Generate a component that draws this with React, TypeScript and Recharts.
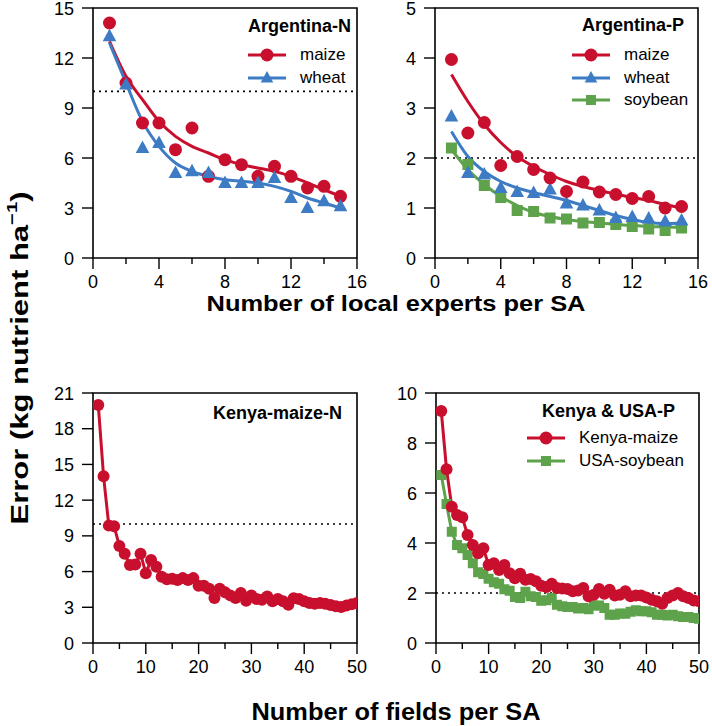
import React from 'react';
import { ComposedChart, Line, Scatter, XAxis, YAxis, ReferenceLine, ReferenceArea, Legend } from 'recharts';

const RED = '#c8102e';
const BLUE = '#3d7cc4';
const GREEN = '#5ea34b';
const FONT = '"Liberation Sans", Arial, sans-serif';

// x values
const expertCounts = [1, 2, 3, 4, 5, 6, 7, 8, 9, 10, 11, 12, 13, 14, 15];
const fieldCounts = [
  1, 2, 3, 4, 5, 6, 7, 8, 9, 10, 11, 12, 13, 14, 15, 16, 17, 18, 19, 20, 21, 22, 23, 24, 25,
  26, 27, 28, 29, 30, 31, 32, 33, 34, 35, 36, 37, 38, 39, 40, 41, 42, 43, 44, 45, 46, 47, 48, 49, 50,
];

// Argentina-N
const argNMaize = [14.1, 10.5, 8.1, 8.1, 6.5, 7.8, 4.9, 5.9, 5.6, 4.9, 5.5, 4.9, 4.2, 4.3, 3.7];
const argNWheat = [13.3, 10.4, 6.6, 6.9, 5.1, 5.2, 5.1, 4.5, 4.5, 4.5, 4.8, 3.6, 3.0, 3.4, 3.1];
const argNMaizeFit = [13.0, 10.9, 9.5, 8.2, 7.3, 6.7, 6.3, 5.9, 5.6, 5.4, 5.2, 4.9, 4.5, 4.1, 3.7];
const argNWheatFit = [12.9, 10.5, 8.2, 6.7, 5.7, 5.2, 4.9, 4.7, 4.6, 4.5, 4.3, 4.0, 3.6, 3.3, 3.0];

// Argentina-P
const argPMaize = [3.97, 2.5, 2.71, 1.85, 2.03, 1.77, 1.6, 1.33, 1.52, 1.32, 1.27, 1.19, 1.23, 1.0, 1.03];
const argPWheat = [2.83, 1.7, 1.67, 1.4, 1.32, 1.3, 1.37, 1.09, 1.05, 0.95, 0.8, 0.82, 0.79, 0.73, 0.75];
const argPSoy = [2.2, 1.87, 1.45, 1.21, 0.95, 0.93, 0.8, 0.78, 0.7, 0.71, 0.67, 0.63, 0.58, 0.55, 0.6];
const argPMaizeFit = [3.67, 3.13, 2.67, 2.31, 2.03, 1.83, 1.67, 1.53, 1.43, 1.35, 1.28, 1.21, 1.15, 1.07, 1.0];
const argPWheatFit = [2.53, 2.03, 1.73, 1.53, 1.4, 1.31, 1.23, 1.15, 1.05, 0.95, 0.85, 0.77, 0.71, 0.69, 0.7];
const argPSoyFit = [2.17, 1.77, 1.47, 1.23, 1.05, 0.91, 0.83, 0.77, 0.73, 0.7, 0.67, 0.65, 0.63, 0.62, 0.61];

// Kenya-maize-N
const kenyaN = [
  20.0, 14.0, 9.86, 9.8, 8.15, 7.5, 6.55, 6.6, 7.5, 5.86, 6.97, 6.4, 5.57, 5.35, 5.4, 5.3, 5.45, 5.3,
  5.45, 4.8, 4.8, 4.55, 3.78, 4.55, 4.26, 4.0, 3.78, 4.2, 3.55, 4.0, 3.7, 3.64, 3.9, 3.5, 3.7, 3.5,
  3.22, 3.75, 3.7, 3.5, 3.36, 3.3, 3.36, 3.3, 3.2, 3.08, 3.02, 3.14, 3.25, 3.36,
];

// Kenya & USA-P
const kenyaP = [
  9.28, 6.95, 5.45, 5.12, 5.03, 4.32, 3.92, 3.59, 3.79, 3.12, 3.19, 2.92, 3.12, 2.79, 2.59, 2.77, 2.53,
  2.56, 2.47, 2.29, 2.24, 2.37, 2.2, 2.18, 2.16, 2.07, 2.1, 2.2, 1.87, 1.93, 2.16, 1.97, 2.13, 1.9, 1.93,
  2.07, 1.87, 1.9, 1.9, 1.82, 1.73, 1.67, 1.57, 1.8, 1.9, 2.0, 1.87, 1.8, 1.7, 1.67,
];
const usaSoy = [
  6.72, 5.56, 4.45, 3.92, 3.79, 3.52, 3.19, 2.83, 2.76, 2.57, 2.43, 2.37, 2.15, 2.09, 1.84, 1.8, 2.05,
  1.87, 1.84, 1.69, 1.71, 1.8, 1.53, 1.47, 1.44, 1.44, 1.38, 1.4, 1.35, 1.5, 1.5, 1.4, 1.13, 1.13, 1.18,
  1.17, 1.25, 1.31, 1.27, 1.27, 1.23, 1.13, 1.13, 1.1, 1.13, 1.07, 1.04, 1.04, 1.0, 0.97,
];

const toPoints = (xs: number[], ys: number[]) => xs.map((x, i) => ({ x, y: ys[i] }));

type Kind = 'circle' | 'triangle' | 'square';

function marker(kind: Kind, color: string, cx: number, cy: number, s: number, key?: any) {
  if (cx == null || cy == null) return <g key={key} />;
  if (kind === 'circle') return <circle key={key} cx={cx} cy={cy} r={s} fill={color} />;
  if (kind === 'square')
    return <rect key={key} x={cx - s} y={cy - s} width={s * 2} height={s * 2} fill={color} />;
  return (
    <polygon
      key={key}
      points={`${cx},${cy - s * 1.15} ${cx - s * 1.05},${cy + s * 0.75} ${cx + s * 1.05},${cy + s * 0.75}`}
      fill={color}
    />
  );
}

function XTick({ x, y, payload, majorEvery }: any) {
  const v = payload.value;
  const major = v % majorEvery === 0;
  return (
    <g>
      <line x1={x} x2={x} y1={y} y2={y + (major ? 11 : 6)} stroke="#000" strokeWidth={1.4} />
      {major && (
        <text x={x} y={y + 30} textAnchor="middle" fontSize={18} fontFamily={FONT} fill="#000">
          {v}
        </text>
      )}
    </g>
  );
}

function YTick({ x, y, payload }: any) {
  return (
    <g>
      <line x1={x - 11} x2={x} y1={y} y2={y} stroke="#000" strokeWidth={1.4} />
      <text x={x - 19} y={y + 6.5} textAnchor="end" fontSize={18} fontFamily={FONT} fill="#000">
        {payload.value}
      </text>
    </g>
  );
}

interface Series {
  data: { x: number; y: number }[];
  color: string;
  kind?: Kind;
  size?: number;
}

interface LegendCfg {
  left: number;
  top: number;
  title: string;
  titleDx: number;
  gap: number;
  items: { label: string; color: string; kind: Kind; size: number }[];
}

function LegendBox({ cfg }: { cfg: LegendCfg }) {
  return (
    <div style={{ fontFamily: FONT, color: '#000' }}>
      <div style={{ marginLeft: cfg.titleDx, fontWeight: 700, fontSize: 18, lineHeight: '22px', whiteSpace: 'nowrap' }}>
        {cfg.title}
      </div>
      <div style={{ marginTop: cfg.gap }}>
        {cfg.items.map((it) => (
          <div key={it.label} style={{ display: 'flex', alignItems: 'center', height: 22.5 }}>
            <svg width={38} height={16} style={{ display: 'block' }}>
              <line x1={0} x2={38} y1={8} y2={8} stroke={it.color} strokeWidth={3} />
              {marker(it.kind, it.color, 19, 8, it.size)}
            </svg>
            <span style={{ marginLeft: 14, fontSize: 17, whiteSpace: 'nowrap' }}>{it.label}</span>
          </div>
        ))}
      </div>
    </div>
  );
}

interface PanelProps {
  left: number;
  top: number;
  width: number;
  height: number;
  margin: { top: number; right: number; bottom: number; left: number };
  yAxisWidth: number;
  xAxisHeight: number;
  xDomain: [number, number];
  xTicks: number[];
  majorEvery: number;
  yDomain: [number, number];
  yTicks: number[];
  refY: number;
  fits?: Series[];
  points?: Series[];
  connected?: Series[];
  legend: LegendCfg;
}

function Panel(p: PanelProps) {
  return (
    <div style={{ position: 'absolute', left: p.left, top: p.top }}>
      <ComposedChart width={p.width} height={p.height} margin={p.margin}>
        <XAxis
          type="number"
          dataKey="x"
          domain={p.xDomain}
          ticks={p.xTicks}
          interval={0}
          allowDataOverflow
          axisLine={false}
          tickLine={false}
          tickSize={0}
          tickMargin={0}
          height={p.xAxisHeight}
          tick={<XTick majorEvery={p.majorEvery} />}
        />
        <YAxis
          type="number"
          dataKey="y"
          domain={p.yDomain}
          ticks={p.yTicks}
          interval={0}
          allowDataOverflow
          axisLine={false}
          tickLine={false}
          tickSize={0}
          tickMargin={0}
          width={p.yAxisWidth}
          tick={<YTick />}
        />
        <ReferenceLine y={p.refY} stroke="#000" strokeWidth={1.6} strokeDasharray="2 4" />
        {(p.fits || []).map((s, i) => (
          <Line
            key={`fit-${i}`}
            data={s.data}
            dataKey="y"
            type="monotone"
            stroke={s.color}
            strokeWidth={3}
            dot={false}
            isAnimationActive={false}
          />
        ))}
        {(p.points || []).map((s, i) => (
          <Scatter
            key={`pts-${i}`}
            data={s.data}
            dataKey="y"
            isAnimationActive={false}
            shape={(sp: any) => marker(s.kind || 'circle', s.color, sp.cx, sp.cy, s.size || 6)}
          />
        ))}
        {(p.connected || []).map((s, i) => (
          <Line
            key={`con-${i}`}
            data={s.data}
            dataKey="y"
            type="linear"
            stroke={s.color}
            strokeWidth={3}
            isAnimationActive={false}
            dot={(dp: any) => marker(s.kind || 'circle', s.color, dp.cx, dp.cy, s.size || 6, dp.index)}
          />
        ))}
        <ReferenceArea
          x1={p.xDomain[0]}
          x2={p.xDomain[1]}
          y1={p.yDomain[0]}
          y2={p.yDomain[1]}
          fill="none"
          fillOpacity={0}
          stroke="#000"
          strokeWidth={1.6}
          ifOverflow="visible"
        />
        <Legend
          layout="vertical"
          align="center"
          verticalAlign="middle"
          content={() => <LegendBox cfg={p.legend} />}
          wrapperStyle={{ top: p.legend.top, left: p.legend.left, width: 'auto', height: 'auto' }}
        />
      </ComposedChart>
    </div>
  );
}

const expertTicks = [0, 2, 4, 6, 8, 10, 12, 14, 16];
const fieldTicks = [0, 5, 10, 15, 20, 25, 30, 35, 40, 45, 50];

export default function App() {
  return (
    <div style={{ position: 'absolute', left: 0, top: 0, width: 712, height: 726, overflow: 'hidden', background: '#fff', fontFamily: FONT }}>
      <Panel
        left={0}
        top={-10}
        width={375}
        height={310}
        margin={{ top: 18, right: 18, bottom: 2, left: 0 }}
        yAxisWidth={93}
        xAxisHeight={40}
        xDomain={[0, 16]}
        xTicks={expertTicks}
        majorEvery={4}
        yDomain={[0, 15]}
        yTicks={[0, 3, 6, 9, 12, 15]}
        refY={10}
        fits={[
          { data: toPoints(expertCounts, argNMaizeFit), color: RED },
          { data: toPoints(expertCounts, argNWheatFit), color: BLUE },
        ]}
        points={[
          { data: toPoints(expertCounts, argNMaize), color: RED, kind: 'circle', size: 6.5 },
          { data: toPoints(expertCounts, argNWheat), color: BLUE, kind: 'triangle', size: 6.5 },
        ]}
        legend={{
          left: 248,
          top: 25,
          title: 'Argentina-N',
          titleDx: 0,
          gap: 7,
          items: [
            { label: 'maize', color: RED, kind: 'circle', size: 6.5 },
            { label: 'wheat', color: BLUE, kind: 'triangle', size: 6 },
          ],
        }}
      />
      <Panel
        left={362}
        top={-10}
        width={350}
        height={310}
        margin={{ top: 18, right: 14, bottom: 2, left: 0 }}
        yAxisWidth={73}
        xAxisHeight={40}
        xDomain={[0, 16]}
        xTicks={expertTicks}
        majorEvery={4}
        yDomain={[0, 5]}
        yTicks={[0, 1, 2, 3, 4, 5]}
        refY={2}
        fits={[
          { data: toPoints(expertCounts, argPSoyFit), color: GREEN },
          { data: toPoints(expertCounts, argPWheatFit), color: BLUE },
          { data: toPoints(expertCounts, argPMaizeFit), color: RED },
        ]}
        points={[
          { data: toPoints(expertCounts, argPSoy), color: GREEN, kind: 'square', size: 5.5 },
          { data: toPoints(expertCounts, argPWheat), color: BLUE, kind: 'triangle', size: 6.5 },
          { data: toPoints(expertCounts, argPMaize), color: RED, kind: 'circle', size: 6.5 },
        ]}
        legend={{
          left: 210,
          top: 24,
          title: 'Argentina-P',
          titleDx: 10,
          gap: 8,
          items: [
            { label: 'maize', color: RED, kind: 'circle', size: 6.5 },
            { label: 'wheat', color: BLUE, kind: 'triangle', size: 6 },
            { label: 'soybean', color: GREEN, kind: 'square', size: 5 },
          ],
        }}
      />
      <Panel
        left={0}
        top={380}
        width={375}
        height={300}
        margin={{ top: 13, right: 18, bottom: 0, left: 0 }}
        yAxisWidth={93}
        xAxisHeight={37}
        xDomain={[0, 50]}
        xTicks={fieldTicks}
        majorEvery={10}
        yDomain={[0, 21]}
        yTicks={[0, 3, 6, 9, 12, 15, 18, 21]}
        refY={10}
        connected={[{ data: toPoints(fieldCounts, kenyaN), color: RED, kind: 'circle', size: 6 }]}
        legend={{ left: 213, top: 22, title: 'Kenya-maize-N', titleDx: 0, gap: 0, items: [] }}
      />
      <Panel
        left={362}
        top={380}
        width={350}
        height={300}
        margin={{ top: 13, right: 13, bottom: 0, left: 0 }}
        yAxisWidth={74}
        xAxisHeight={37}
        xDomain={[0, 50]}
        xTicks={fieldTicks}
        majorEvery={10}
        yDomain={[0, 10]}
        yTicks={[0, 2, 4, 6, 8, 10]}
        refY={2}
        connected={[
          { data: toPoints(fieldCounts, usaSoy), color: GREEN, kind: 'square', size: 5 },
          { data: toPoints(fieldCounts, kenyaP), color: RED, kind: 'circle', size: 6 },
        ]}
        legend={{
          left: 165,
          top: 20,
          title: 'Kenya & USA-P',
          titleDx: 15,
          gap: 5,
          items: [
            { label: 'Kenya-maize', color: RED, kind: 'circle', size: 6.5 },
            { label: 'USA-soybean', color: GREEN, kind: 'square', size: 5 },
          ],
        }}
      />
      <svg width={712} height={726} style={{ position: 'absolute', left: 0, top: 0, pointerEvents: 'none' }}>
        <text
          x={20}
          y={358}
          transform="rotate(-90, 20, 358)"
          textAnchor="middle"
          dominantBaseline="central"
          fontSize={23}
          fontWeight={700}
          fontFamily={FONT}
          fill="#000"
          textLength={333}
          lengthAdjust="spacingAndGlyphs"
        >
          Error (kg nutrient ha<tspan dy={-9} fontSize={15}>−1</tspan>
          <tspan dy={9}>)</tspan>
        </text>
        <text
          x={396}
          y={311}
          textAnchor="middle"
          fontSize={22}
          fontWeight={700}
          fontFamily={FONT}
          fill="#000"
          textLength={379}
          lengthAdjust="spacingAndGlyphs"
        >
          Number of local experts per SA
        </text>
        <text
          x={396}
          y={720}
          textAnchor="middle"
          fontSize={23}
          fontWeight={700}
          fontFamily={FONT}
          fill="#000"
          textLength={289}
          lengthAdjust="spacingAndGlyphs"
        >
          Number of fields per SA
        </text>
      </svg>
    </div>
  );
}
